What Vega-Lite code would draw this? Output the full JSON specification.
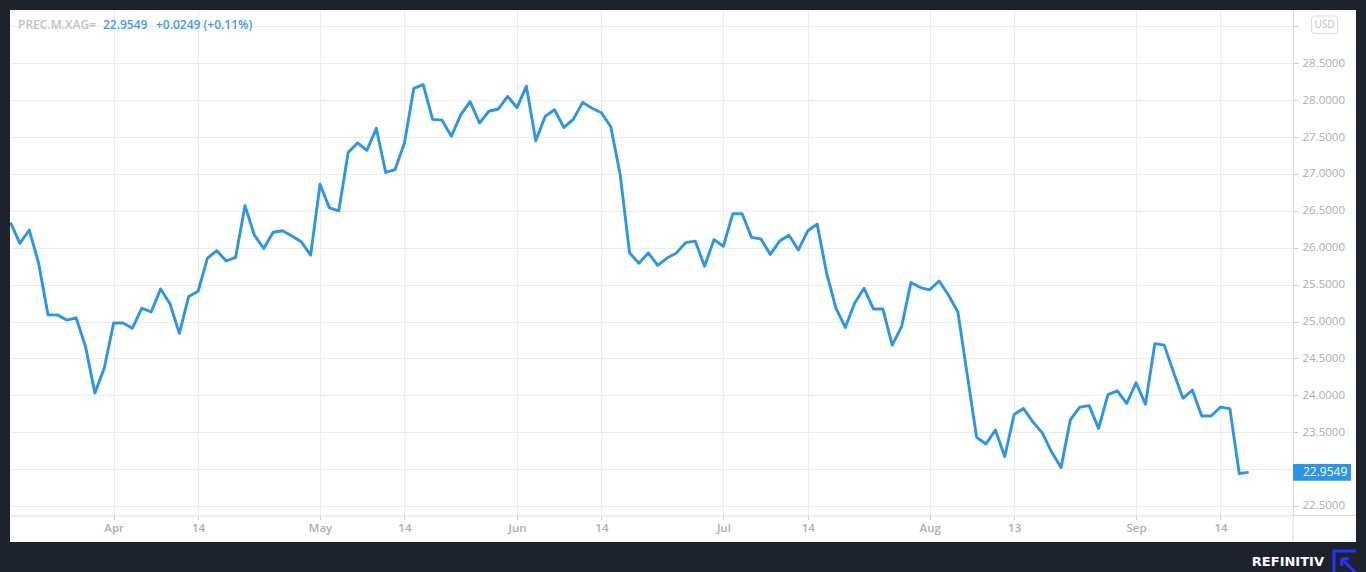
{
  "$schema": "https://vega.github.io/schema/vega-lite/v6.json",
  "width": 1283,
  "height": 505.5,
  "autosize": {"type": "none"},
  "padding": {"left": 10, "top": 10, "right": 73, "bottom": 56.5},
  "background": "#ffffff",
  "config": {"view": {"stroke": null, "fill": "#ffffff"}, "font": "Open Sans"},
  "layer": [
    {
      "data": {"values": [
        {"date": "2021-03-17", "v": 26.34}, {"date": "2021-03-18", "v": 26.06}, {"date": "2021-03-19", "v": 26.24},
        {"date": "2021-03-22", "v": 25.79}, {"date": "2021-03-23", "v": 25.09}, {"date": "2021-03-24", "v": 25.09},
        {"date": "2021-03-25", "v": 25.02}, {"date": "2021-03-26", "v": 25.05}, {"date": "2021-03-29", "v": 24.66},
        {"date": "2021-03-30", "v": 24.03}, {"date": "2021-03-31", "v": 24.37}, {"date": "2021-04-01", "v": 24.98},
        {"date": "2021-04-02", "v": 24.98}, {"date": "2021-04-05", "v": 24.91}, {"date": "2021-04-06", "v": 25.18},
        {"date": "2021-04-07", "v": 25.13}, {"date": "2021-04-08", "v": 25.44}, {"date": "2021-04-09", "v": 25.24},
        {"date": "2021-04-12", "v": 24.84}, {"date": "2021-04-13", "v": 25.34}, {"date": "2021-04-14", "v": 25.41},
        {"date": "2021-04-15", "v": 25.86}, {"date": "2021-04-16", "v": 25.96}, {"date": "2021-04-19", "v": 25.82},
        {"date": "2021-04-20", "v": 25.87}, {"date": "2021-04-21", "v": 26.57}, {"date": "2021-04-22", "v": 26.17},
        {"date": "2021-04-23", "v": 25.99}, {"date": "2021-04-26", "v": 26.21}, {"date": "2021-04-27", "v": 26.23},
        {"date": "2021-04-28", "v": 26.16}, {"date": "2021-04-29", "v": 26.08}, {"date": "2021-04-30", "v": 25.90},
        {"date": "2021-05-03", "v": 26.86}, {"date": "2021-05-04", "v": 26.54}, {"date": "2021-05-05", "v": 26.50},
        {"date": "2021-05-06", "v": 27.29}, {"date": "2021-05-07", "v": 27.42}, {"date": "2021-05-10", "v": 27.32},
        {"date": "2021-05-11", "v": 27.62}, {"date": "2021-05-12", "v": 27.02}, {"date": "2021-05-13", "v": 27.06},
        {"date": "2021-05-14", "v": 27.42}, {"date": "2021-05-17", "v": 28.16}, {"date": "2021-05-18", "v": 28.21},
        {"date": "2021-05-19", "v": 27.74}, {"date": "2021-05-20", "v": 27.73}, {"date": "2021-05-21", "v": 27.51},
        {"date": "2021-05-24", "v": 27.80}, {"date": "2021-05-25", "v": 27.98}, {"date": "2021-05-26", "v": 27.69},
        {"date": "2021-05-27", "v": 27.85}, {"date": "2021-05-28", "v": 27.88}, {"date": "2021-05-31", "v": 28.05},
        {"date": "2021-06-01", "v": 27.90}, {"date": "2021-06-02", "v": 28.19}, {"date": "2021-06-03", "v": 27.45},
        {"date": "2021-06-04", "v": 27.78}, {"date": "2021-06-07", "v": 27.87}, {"date": "2021-06-08", "v": 27.63},
        {"date": "2021-06-09", "v": 27.74}, {"date": "2021-06-10", "v": 27.97}, {"date": "2021-06-11", "v": 27.89},
        {"date": "2021-06-14", "v": 27.83}, {"date": "2021-06-15", "v": 27.64}, {"date": "2021-06-16", "v": 26.99},
        {"date": "2021-06-17", "v": 25.93}, {"date": "2021-06-18", "v": 25.79}, {"date": "2021-06-21", "v": 25.93},
        {"date": "2021-06-22", "v": 25.76}, {"date": "2021-06-23", "v": 25.86}, {"date": "2021-06-24", "v": 25.93},
        {"date": "2021-06-25", "v": 26.07}, {"date": "2021-06-28", "v": 26.09}, {"date": "2021-06-29", "v": 25.75},
        {"date": "2021-06-30", "v": 26.11}, {"date": "2021-07-01", "v": 26.02}, {"date": "2021-07-02", "v": 26.46},
        {"date": "2021-07-05", "v": 26.46}, {"date": "2021-07-06", "v": 26.14}, {"date": "2021-07-07", "v": 26.12},
        {"date": "2021-07-08", "v": 25.91}, {"date": "2021-07-09", "v": 26.09}, {"date": "2021-07-12", "v": 26.17},
        {"date": "2021-07-13", "v": 25.97}, {"date": "2021-07-14", "v": 26.23}, {"date": "2021-07-15", "v": 26.32},
        {"date": "2021-07-16", "v": 25.66}, {"date": "2021-07-19", "v": 25.18}, {"date": "2021-07-20", "v": 24.92},
        {"date": "2021-07-21", "v": 25.25}, {"date": "2021-07-22", "v": 25.45}, {"date": "2021-07-23", "v": 25.17},
        {"date": "2021-07-26", "v": 25.17}, {"date": "2021-07-27", "v": 24.68}, {"date": "2021-07-28", "v": 24.93},
        {"date": "2021-07-29", "v": 25.53}, {"date": "2021-07-30", "v": 25.46}, {"date": "2021-08-02", "v": 25.43},
        {"date": "2021-08-03", "v": 25.55}, {"date": "2021-08-04", "v": 25.36}, {"date": "2021-08-05", "v": 25.13},
        {"date": "2021-08-06", "v": 24.28}, {"date": "2021-08-09", "v": 23.43}, {"date": "2021-08-10", "v": 23.34},
        {"date": "2021-08-11", "v": 23.53}, {"date": "2021-08-12", "v": 23.17}, {"date": "2021-08-13", "v": 23.74},
        {"date": "2021-08-16", "v": 23.82}, {"date": "2021-08-17", "v": 23.64}, {"date": "2021-08-18", "v": 23.49},
        {"date": "2021-08-19", "v": 23.23}, {"date": "2021-08-20", "v": 23.02}, {"date": "2021-08-23", "v": 23.67},
        {"date": "2021-08-24", "v": 23.84}, {"date": "2021-08-25", "v": 23.86}, {"date": "2021-08-26", "v": 23.55},
        {"date": "2021-08-27", "v": 24.01}, {"date": "2021-08-30", "v": 24.06}, {"date": "2021-08-31", "v": 23.89},
        {"date": "2021-09-01", "v": 24.17}, {"date": "2021-09-02", "v": 23.88}, {"date": "2021-09-03", "v": 24.70},
        {"date": "2021-09-06", "v": 24.68}, {"date": "2021-09-07", "v": 24.31}, {"date": "2021-09-08", "v": 23.96},
        {"date": "2021-09-09", "v": 24.07}, {"date": "2021-09-10", "v": 23.72}, {"date": "2021-09-13", "v": 23.72},
        {"date": "2021-09-14", "v": 23.84}, {"date": "2021-09-15", "v": 23.82}, {"date": "2021-09-16", "v": 22.94},
        {"date": "2021-09-17", "v": 22.9549}
      ]},
      "transform": [{"window": [{"op": "row_number", "as": "n"}], "sort": [{"field": "date"}]}],
      "mark": {"type": "line", "color": "#2b95e9", "strokeWidth": 2.9, "strokeJoin": "round", "clip": true},
      "encoding": {
        "x": {
          "field": "n", "type": "quantitative",
          "scale": {"domain": [0.947, 137.73], "nice": false, "zero": false},
          "axis": {
            "title": null,
            "values": [12, 21, 34, 43, 55, 64, 77, 86, 99, 108, 121, 130],
            "tickCount": 40,
            "labelExpr": "['Apr','14','May','14','Jun','14','Jul','14','Aug','13','Sep','14'][indexof([12,21,34,43,55,64,77,86,99,108,121,130], datum.value)]",
            "grid": true, "gridColor": "#ececec", "gridWidth": 1,
            "domainColor": "#d9d9d9", "domainWidth": 1,
            "tickColor": "#d0d0d0", "tickSize": 4,
            "labelColor": "#adadad", "labelFontSize": 11.5, "labelFont": "Open Sans", "labelFontWeight": 600, "labelPadding": 3,
            "labelFlush": false, "labelOverlap": false
          }
        },
        "y": {
          "field": "v", "type": "quantitative",
          "scale": {"domain": [22.371, 29.222], "nice": false, "zero": false},
          "axis": {
            "title": null, "orient": "right",
            "values": [22.5, 23, 23.5, 24, 24.5, 25, 25.5, 26, 26.5, 27, 27.5, 28, 28.5, 29],
            "tickCount": 30,
            "labelExpr": "datum.value > 28.9 || (datum.value > 22.9 && datum.value < 23.1) ? '' : format(datum.value, '.4f')",
            "grid": true, "gridColor": "#ececec", "gridWidth": 1,
            "domainColor": "#d9d9d9", "domainWidth": 1,
            "tickColor": "#cccccc", "tickSize": 5,
            "labelColor": "#adadad", "labelFontSize": 11.5, "labelFont": "Open Sans", "labelPadding": 4,
            "labelFlush": false, "labelOverlap": false
          }
        }
      }
    },
    {
      "data": {"values": [{}]},
      "mark": {"type": "rule", "color": "#d9d9d9", "strokeWidth": 1, "clip": false},
      "encoding": {"x": {"datum": 137.73}, "y": {"datum": 22.371}, "y2": {"datum": 22.011}}
    },
    {
      "data": {"values": [{}]},
      "mark": {"type": "rule", "color": "#d9d9d9", "strokeWidth": 1, "clip": false},
      "encoding": {"x": {"datum": 137.73}, "x2": {"datum": 144.444}, "y": {"datum": 22.371}}
    },
    {
      "data": {"values": [{}]},
      "mark": {"type": "text", "align": "left", "baseline": "middle", "fontSize": 12, "font": "Open Sans", "fontWeight": 600, "color": "#c2c2c2", "clip": false},
      "encoding": {"x": {"datum": 1.80}, "y": {"datum": 29.019}, "text": {"value": "PREC.M.XAG="}}
    },
    {
      "data": {"values": [{}]},
      "mark": {"type": "text", "align": "left", "baseline": "middle", "fontSize": 12, "font": "Open Sans", "fontWeight": 600, "color": "#3d9be9", "clip": false},
      "encoding": {"x": {"datum": 10.86}, "y": {"datum": 29.019}, "text": {"value": "22.9549"}}
    },
    {
      "data": {"values": [{}]},
      "mark": {"type": "text", "align": "left", "baseline": "middle", "fontSize": 12, "font": "Open Sans", "fontWeight": 600, "color": "#3d9be9", "clip": false},
      "encoding": {"x": {"datum": 16.51}, "y": {"datum": 29.019}, "text": {"value": "+0.0249 (+0.11%)"}}
    },
    {
      "data": {"values": [{}]},
      "mark": {"type": "rect", "fill": "#ffffff", "stroke": "#d6d6d6", "strokeWidth": 1, "cornerRadius": 3, "clip": false},
      "encoding": {"x": {"datum": 139.72}, "x2": {"datum": 142.49}, "y": {"datum": 29.141}, "y2": {"datum": 28.906}}
    },
    {
      "data": {"values": [{}]},
      "mark": {"type": "text", "align": "center", "baseline": "middle", "fontSize": 10, "font": "Open Sans", "color": "#bdbdbd", "clip": false},
      "encoding": {"x": {"datum": 141.1}, "y": {"datum": 29.024}, "text": {"value": "USD"}}
    },
    {
      "data": {"values": [{}]},
      "mark": {"type": "rect", "fill": "#2a94e8", "clip": false},
      "encoding": {"x": {"datum": 137.73}, "x2": {"datum": 143.91}, "y": {"datum": 23.069}, "y2": {"datum": 22.842}}
    },
    {
      "data": {"values": [{}]},
      "mark": {"type": "text", "align": "left", "baseline": "middle", "fontSize": 12, "font": "Open Sans", "color": "#ffffff", "clip": false},
      "encoding": {"x": {"datum": 138.79}, "y": {"datum": 22.956}, "text": {"value": "22.9549"}}
    },
    {
      "data": {"values": [{}]},
      "mark": {"type": "rect", "fill": "#1e222d", "clip": false},
      "encoding": {"x": {"datum": -3}, "x2": {"datum": 148}, "y": {"datum": 29.222}, "y2": {"datum": 29.7}}
    },
    {
      "data": {"values": [{}]},
      "mark": {"type": "rect", "fill": "#1e222d", "clip": false},
      "encoding": {"x": {"datum": -3}, "x2": {"datum": 0.947}, "y": {"datum": 21.3}, "y2": {"datum": 29.7}}
    },
    {
      "data": {"values": [{}]},
      "mark": {"type": "rect", "fill": "#1e222d", "clip": false},
      "encoding": {"x": {"datum": 144.444}, "x2": {"datum": 148}, "y": {"datum": 21.3}, "y2": {"datum": 29.7}}
    },
    {
      "data": {"values": [{}]},
      "mark": {"type": "rect", "fill": "#1e222d", "clip": false},
      "encoding": {"x": {"datum": -3}, "x2": {"datum": 148}, "y": {"datum": 21.3}, "y2": {"datum": 22.011}}
    },
    {
      "data": {"values": [{}]},
      "mark": {"type": "text", "align": "right", "baseline": "middle", "fontSize": 13, "font": "DejaVu Sans", "fontWeight": "bold", "color": "#ffffff", "clip": false},
      "encoding": {"x": {"datum": 141.03}, "y": {"datum": 21.744}, "text": {"value": "REFINITIV"}}
    },
    {
      "data": {"values": [{}]},
      "mark": {"type": "point", "shape": "M-1,1 L-1,-1 L1,-1 M1,1 L-0.3,-0.3 M-0.3,-0.3 L0.35,-0.3 M-0.3,-0.3 L-0.3,0.35", "filled": false, "stroke": "#2233ff", "strokeWidth": 3, "size": 484, "opacity": 1, "clip": false},
      "encoding": {"x": {"datum": 143.27}, "y": {"datum": 21.74}}
    }
  ]
}
